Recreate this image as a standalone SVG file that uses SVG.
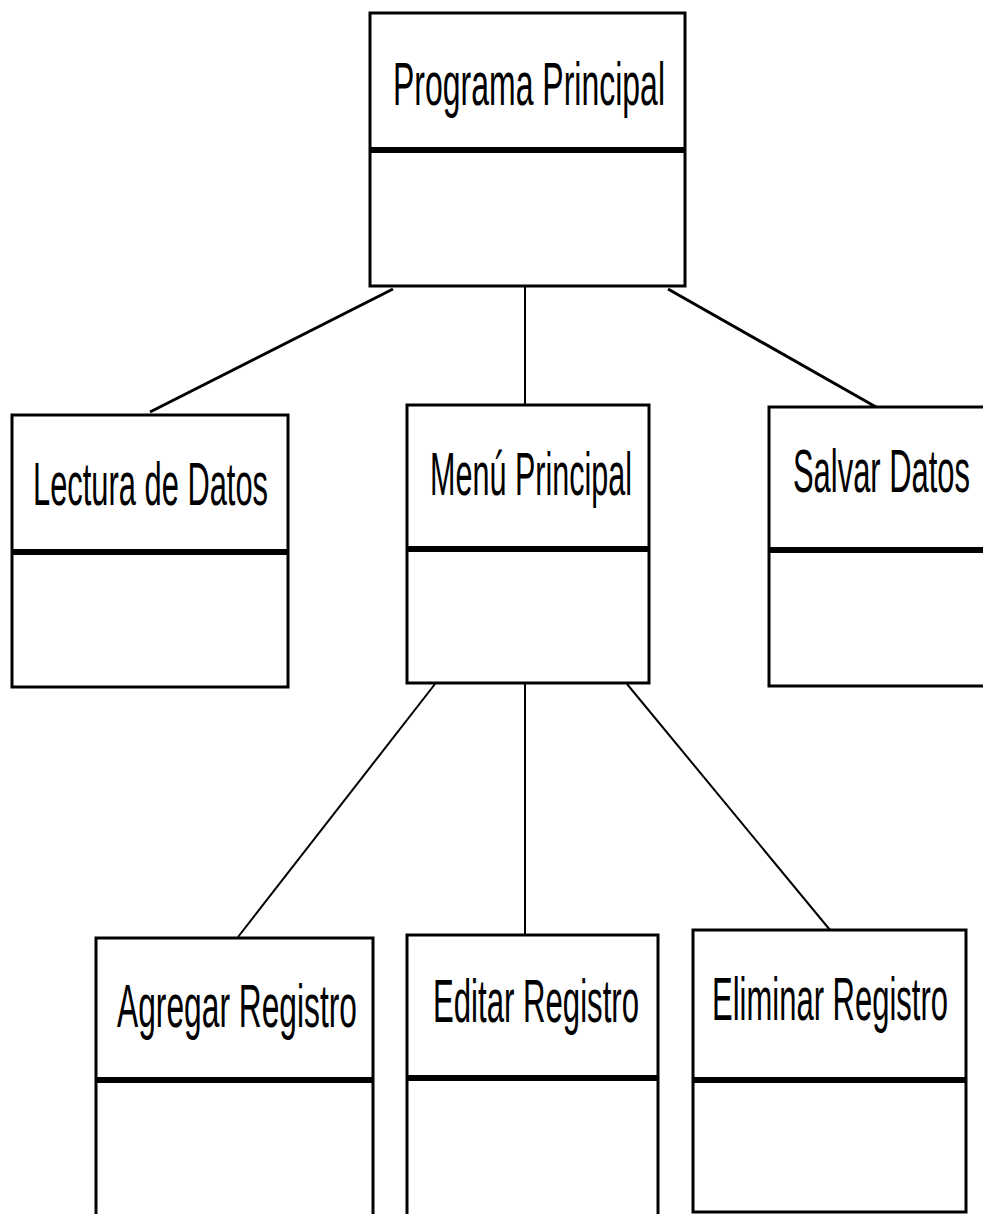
<svg xmlns="http://www.w3.org/2000/svg" width="983" height="1214" viewBox="0 0 983 1214">
  <style>
    .box { fill: #ffffff; stroke: #000000; stroke-width: 3; }
    .divider { stroke: #000000; stroke-width: 6; }
    .label { font-family: "Liberation Sans", Arial, sans-serif; font-size: 62px; fill: #000000; }
    .link { stroke: #000000; stroke-width: 2; fill: none; }
    .link-heavy { stroke: #000000; stroke-width: 3; fill: none; }
  </style>
  <rect width="983" height="1214" fill="#ffffff"/>

  <!-- connectors -->
  <g id="connectors">
    <line class="link-heavy" x1="393" y1="289" x2="150" y2="412"/>
    <line class="link" x1="525" y1="286" x2="525" y2="405"/>
    <line class="link-heavy" x1="668" y1="289" x2="876" y2="407"/>
    <line class="link" x1="435" y1="684" x2="238" y2="937"/>
    <line class="link" x1="525" y1="684" x2="525" y2="935"/>
    <line class="link" x1="627" y1="684" x2="830" y2="930"/>
  </g>

  <!-- module boxes; labels use a condensed face (horizontal scale 0.5) -->
  <g id="programa-principal">
    <rect class="box" x="370" y="13" width="315" height="273"/>
    <line class="divider" x1="370" y1="150" x2="685" y2="150"/>
    <text class="label" transform="translate(393 105) scale(0.5 1)" textLength="544" lengthAdjust="spacingAndGlyphs">Programa Principal</text>
  </g>

  <g id="lectura-de-datos">
    <rect class="box" x="12" y="415" width="276" height="272"/>
    <line class="divider" x1="12" y1="552" x2="288" y2="552"/>
    <text class="label" transform="translate(33 505) scale(0.5 1)" textLength="470" lengthAdjust="spacingAndGlyphs">Lectura de Datos</text>
  </g>

  <g id="menu-principal">
    <rect class="box" x="407" y="405" width="242" height="278"/>
    <line class="divider" x1="407" y1="549" x2="649" y2="549"/>
    <text class="label" transform="translate(430 495) scale(0.5 1)" textLength="404" lengthAdjust="spacingAndGlyphs">Menú Principal</text>
  </g>

  <g id="salvar-datos">
    <rect class="box" x="769" y="407" width="230" height="279"/>
    <line class="divider" x1="769" y1="550" x2="999" y2="550"/>
    <text class="label" transform="translate(793 492) scale(0.5 1)" textLength="354" lengthAdjust="spacingAndGlyphs">Salvar Datos</text>
  </g>

  <g id="agregar-registro">
    <rect class="box" x="96" y="938" width="277" height="300"/>
    <line class="divider" x1="96" y1="1080" x2="373" y2="1080"/>
    <text class="label" transform="translate(117 1027) scale(0.5 1)" textLength="480" lengthAdjust="spacingAndGlyphs">Agregar Registro</text>
  </g>

  <g id="editar-registro">
    <rect class="box" x="407" y="935" width="251" height="300"/>
    <line class="divider" x1="407" y1="1078" x2="658" y2="1078"/>
    <text class="label" transform="translate(433 1022) scale(0.5 1)" textLength="412" lengthAdjust="spacingAndGlyphs">Editar Registro</text>
  </g>

  <g id="eliminar-registro">
    <rect class="box" x="693" y="930" width="273" height="282"/>
    <line class="divider" x1="693" y1="1080" x2="966" y2="1080"/>
    <text class="label" transform="translate(712 1020) scale(0.5 1)" textLength="472" lengthAdjust="spacingAndGlyphs">Eliminar Registro</text>
  </g>
</svg>
